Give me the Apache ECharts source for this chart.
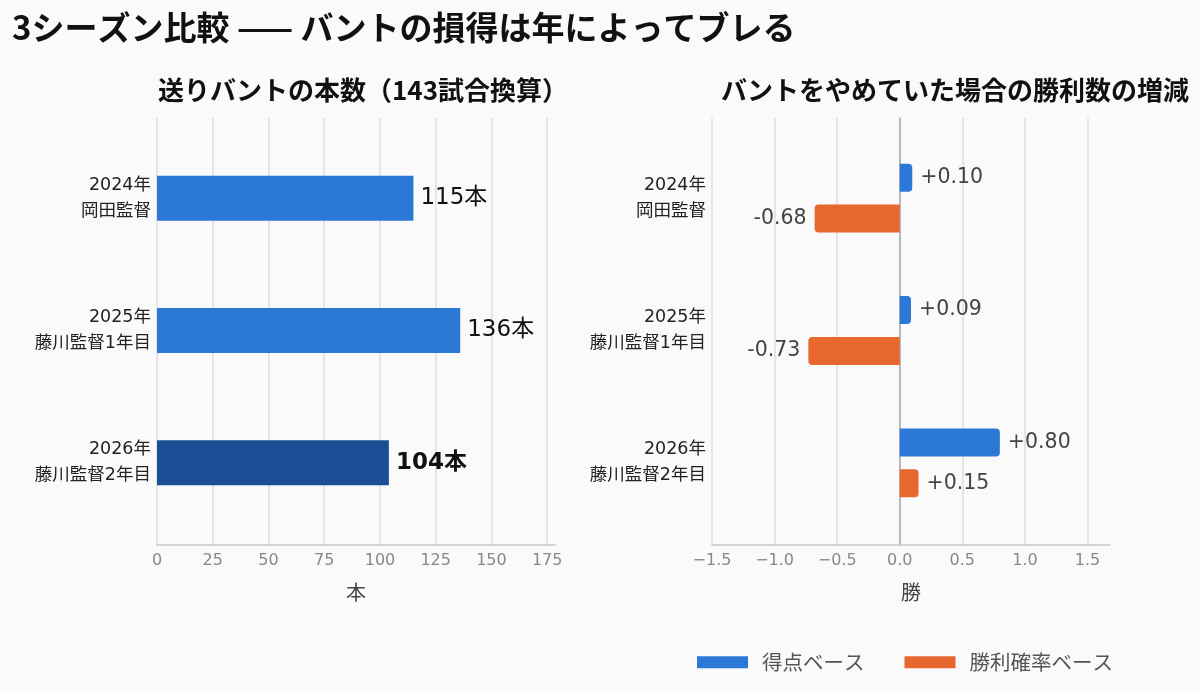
<!DOCTYPE html>
<html><head><meta charset="utf-8">
<script src="https://cdn.jsdelivr.net/npm/echarts@6/dist/echarts.min.js"></script>
<style>html,body{margin:0;padding:0;background:#fafafa}#c{width:1200px;height:691px}</style>
</head><body><div id="c"></div>
<script>
const categories = ['2024年\n岡田監督', '2025年\n藤川監督1年目', '2026年\n藤川監督2年目'];
const buntCounts = [115, 136, 104];
const runBased = [0.10, 0.09, 0.80];
const winProbBased = [-0.68, -0.73, 0.15];
const seriesNames = ['得点ベース', '勝利確率ベース'];
const leftTicks = { min: 0, max: 178.5, interval: 25 };
const rightTicks = { min: -1.5, max: 1.68, interval: 0.5 };

const FONT = '"Noto Sans CJK JP", "Noto Sans", sans-serif';
const NUMFONT = '"DejaVu Sans", "Noto Sans CJK JP", sans-serif';
const BLUE = '#2b78d6', DARK = '#1b4f95', ORANGE = '#e8672f';
const chart = echarts.init(document.getElementById('c'));

function fmtSigned(v){ return (v >= 0 ? '+' : '-') + Math.abs(v).toFixed(2); }
function signedItems(arr, color){
  return arr.map(v => ({
    value: v,
    itemStyle: { color: color, borderRadius: v >= 0 ? [0,4,4,0] : [4,0,0,4] },
    label: { position: v >= 0 ? 'right' : 'left' }
  }));
}

const frameAxisCommon = {
  type: 'value', axisTick: { show: false },
  axisLine: { show: true, lineStyle: { color: '#c8c8c8', width: 1.5 } },
  splitLine: { show: true, showMaxLine: false, lineStyle: { color: '#dedede', width: 1.5 } },
  axisLabel: { color: '#888', fontSize: 16, fontFamily: NUMFONT, showMaxLabel: false, margin: 8 },
  nameLocation: 'middle', nameGap: 37, nameTextStyle: { color: '#444', fontSize: 20, fontFamily: FONT }
};
const catLabel = { color: '#222', fontSize: 17.5, lineHeight: 26, margin: 6, fontFamily: NUMFONT };

chart.setOption({
  backgroundColor: '#fafafa',
  textStyle: { fontFamily: FONT },
  title: [
    { text: '3シーズン比較 —— バントの損得は年によってブレる', left: 7, top: 6,
      textStyle: { fontSize: 33, fontWeight: 'bold', color: '#111', fontFamily: FONT } },
    { text: '送りバントの本数（143試合換算）', left: 358, top: 72, textAlign: 'center',
      textStyle: { fontSize: 26, fontWeight: 'bold', color: '#111', fontFamily: FONT } },
    { text: 'バントをやめていた場合の勝利数の増減', left: 950, top: 72, textAlign: 'center',
      textStyle: { fontSize: 26, fontWeight: 'bold', color: '#111', fontFamily: FONT } }
  ],
  legend: {
    data: seriesNames, left: 692, top: 647, icon: 'rect', itemWidth: 51, itemHeight: 12, itemGap: 40,
    textStyle: { fontSize: 20.5, color: '#555', fontFamily: FONT, padding: [0, 0, 0, 9] }
  },
  grid: [
    { left: 157, right: 645, top: 118, bottom: 146 },
    { left: 157, right: 645, top: 132, bottom: 162 },
    { left: 712, right: 90, top: 118, bottom: 146 },
    { left: 712, right: 90, top: 132, bottom: 162 }
  ],
  xAxis: [
    Object.assign({}, frameAxisCommon, { gridIndex: 0, min: leftTicks.min, max: leftTicks.max, interval: leftTicks.interval, name: '本' }),
    { gridIndex: 1, type: 'value', min: leftTicks.min, max: leftTicks.max, show: false },
    Object.assign({}, frameAxisCommon, { gridIndex: 2, min: rightTicks.min, max: rightTicks.max, interval: rightTicks.interval, name: '勝',
      axisLabel: Object.assign({}, frameAxisCommon.axisLabel, { formatter: v => v.toFixed(1).replace('-', '−') }) }),
    { gridIndex: 3, type: 'value', min: rightTicks.min, max: rightTicks.max, show: false }
  ],
  yAxis: [
    { gridIndex: 0, type: 'value', min: 0, max: 1, show: false },
    { gridIndex: 1, type: 'category', inverse: true, data: categories,
      axisLine: { show: false }, axisTick: { show: false }, splitLine: { show: false }, axisLabel: catLabel },
    { gridIndex: 2, type: 'value', min: 0, max: 1, show: true,
      axisLine: { show: true, onZero: true, lineStyle: { color: '#a8a8a8', width: 1.5 } },
      axisLabel: { show: false }, axisTick: { show: false }, splitLine: { show: false } },
    { gridIndex: 3, type: 'category', inverse: true, data: categories,
      axisLine: { show: false }, axisTick: { show: false }, splitLine: { show: false }, axisLabel: catLabel }
  ],
  series: [
    { type: 'scatter', xAxisIndex: 0, yAxisIndex: 0, data: [], silent: true },
    { type: 'scatter', xAxisIndex: 2, yAxisIndex: 2, data: [], silent: true },
    { type: 'bar', xAxisIndex: 1, yAxisIndex: 1, barWidth: 45, silent: true,
      data: buntCounts.map((v, i) => ({
        value: v,
        itemStyle: { color: i === buntCounts.length - 1 ? DARK : BLUE },
        label: { fontWeight: i === buntCounts.length - 1 ? 'bold' : 'normal' }
      })),
      label: { show: true, position: 'right', distance: 7, fontSize: 23, color: '#111', fontFamily: NUMFONT,
        padding: [3, 0, 0, 0], formatter: p => p.value + '本' } },
    { name: seriesNames[0], type: 'bar', xAxisIndex: 3, yAxisIndex: 3, barWidth: 28, barGap: '46%', silent: true,
      itemStyle: { color: BLUE },
      data: signedItems(runBased, BLUE),
      label: { show: true, distance: 8, fontSize: 20.5, color: '#444', fontFamily: NUMFONT, padding: [3, 0, 0, 0], formatter: p => fmtSigned(p.value) } },
    { name: seriesNames[1], type: 'bar', xAxisIndex: 3, yAxisIndex: 3, barWidth: 28, barGap: '46%', silent: true,
      itemStyle: { color: ORANGE },
      data: signedItems(winProbBased, ORANGE),
      label: { show: true, distance: 8, fontSize: 20.5, color: '#444', fontFamily: NUMFONT, padding: [3, 0, 0, 0], formatter: p => fmtSigned(p.value) } }
  ]
});
</script></body></html>
